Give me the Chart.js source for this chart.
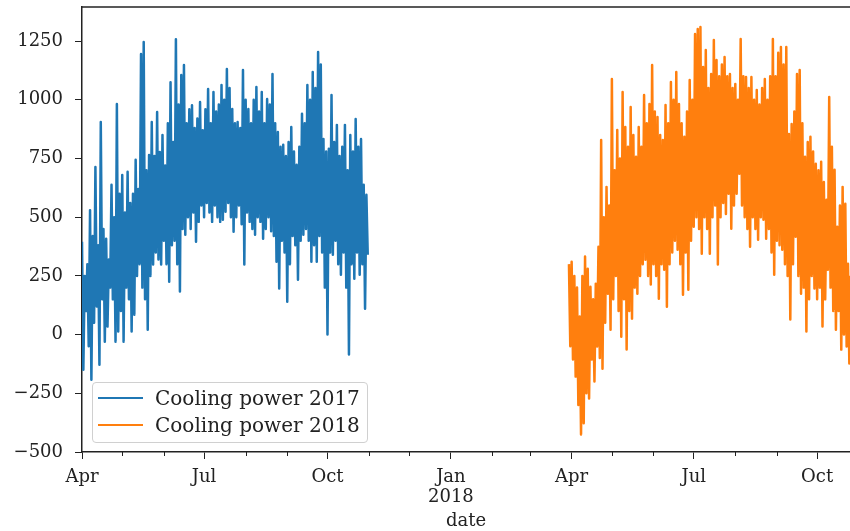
<!DOCTYPE html>
<html>
<head>
<meta charset="utf-8">
<script src="https://cdn.jsdelivr.net/npm/chart.js@4.4.1/dist/chart.umd.min.js"></script>
<style>
    html, body { margin: 0; padding: 0; background: #fff; overflow: hidden; }
    #wrap { position: relative; width: 850px; height: 531px; }
    #legend {
        position: absolute; left: 92px; top: 382px; width: 274px; height: 59px;
        border: 1px solid #d0d0d0; border-radius: 4px; background: rgba(255, 255, 255, 0.8);
        font-family: "DejaVu Serif"; font-size: 20px; color: #222;
    }
    .row { position: absolute; left: 0; height: 26px; width: 100%; }
    .row .swatch { position: absolute; left: 5px; top: 12px; width: 45px; height: 2px; }
    .row .txt { position: absolute; left: 62px; top: 0; line-height: 26px; white-space: nowrap; }
</style>
</head>
<body>
<div id="wrap">
    <canvas id="chart" width="850" height="531"></canvas>
    <div id="legend"></div>
</div>
<script>
const seriesNames = ["Cooling power 2017", "Cooling power 2018"];
const seriesColors = ["#1f77b4", "#ff7f0e"];

// x values are days counted from 2017-04-01, one high and one low every two days
const start2017 = 0;
const start2018 = 363;

const high2017 = [395, 250, 300, 530, 420, 714, 380, 905, 450, 408,
    320, 638, 500, 982, 600, 680, 520, 693, 560, 600,
    744, 620, 1195, 1246, 700, 765, 905, 760, 948, 778,
    850, 720, 900, 1075, 820, 1258, 980, 1105, 1148, 900,
    960, 977, 880, 920, 990, 870, 960, 1046, 900, 1033,
    950, 980, 1063, 1000, 1131, 1050, 961, 900, 905, 880,
    1127, 1000, 961, 900, 1000, 1054, 950, 1033, 900, 1003,
    980, 1110, 900, 863, 800, 808, 760, 820, 884, 780,
    723, 800, 940, 900, 1063, 1000, 1118, 1050, 1203, 1150,
    833, 780, 791, 1020, 820, 893, 760, 800, 893, 700,
    850, 780, 918, 800, 833, 638, 595];
const low2017 = [-150, 100, -50, -192, 50, 120, -128, 150, -30, 34,
    200, 150, -30, 13, 100, -30, 200, 150, 13, 85,
    250, 300, 200, 150, 21, 250, 298, 350, 320, 298,
    400, 300, 225, 380, 400, 300, 183, 450, 425, 500,
    450, 520, 395, 480, 550, 500, 560, 520, 480, 550,
    500, 480, 489, 523, 560, 500, 438, 500, 550, 470,
    298, 520, 480, 450, 425, 500, 480, 408, 450, 500,
    440, 420, 310, 196, 400, 350, 140, 300, 420, 380,
    234, 400, 425, 450, 400, 310, 380, 310, 420, 350,
    200, 0, 350, 340, 400, 300, 255, 350, 200, -85,
    300, 238, 350, 255, 300, 110, 340];

const high2018 = [300, 310, 250, 200, 77, 250, 332, 280, 204, 150,
    217, 374, 829, 500, 629, 550, 1088, 700, 871, 750,
    1033, 884, 800, 969, 850, 757, 884, 800, 1020, 900,
    982, 1148, 950, 927, 850, 829, 978, 900, 1076, 1000,
    1118, 982, 900, 842, 950, 1084, 1000, 1280, 1301, 1310,
    1140, 1212, 1050, 1110, 1254, 1169, 1100, 1150, 1182, 1100,
    1110, 1050, 1067, 1000, 1259, 1100, 1097, 1050, 1097, 1000,
    1042, 980, 1050, 1088, 1000, 1100, 1259, 1100, 1200, 1225,
    1150, 1225, 854, 897, 950, 1110, 1127, 900, 757, 820,
    842, 780, 727, 700, 736, 650, 574, 1012, 800, 702,
    459, 550, 629, 557, 302, 250];
const low2018 = [-50, -106, -179, -300, -425, -378, -250, -272, -106, -200,
    -51, -100, -145, 50, 174, 21, 150, 250, 100, -9,
    150, -64, 100, 68, 200, 174, 250, 300, 319, 250,
    213, 300, 250, 153, 300, 276, 119, 300, 350, 400,
    361, 300, 170, 350, 191, 400, 459, 500, 450, 344,
    500, 450, 344, 500, 550, 298, 500, 560, 514, 600,
    451, 550, 600, 685, 550, 500, 450, 374, 500, 450,
    404, 500, 489, 408, 450, 350, 255, 400, 380, 361,
    300, 250, 64, 300, 417, 250, 174, 200, 13, 150,
    250, 196, 150, 200, 34, 150, 276, 200, 100, 21,
    100, -64, 0, -51, -123, -80];

const xTickDays = [0, 91, 183, 275, 365, 456, 548];
const xTickLabels = ["Apr", "Jul", "Oct", ["Jan", "2018"], "Apr", "Jul", "Oct"];
const xMinorDays = [30, 61, 122, 153, 214, 244, 306, 334, 395, 426, 487, 518];
const yTicks = [-500, -250, 0, 250, 500, 750, 1000, 1250];

function toPoints(startDay, highs, lows) {
    let pts = [];
    highs.forEach((h, i) => {
        pts.push({ x: startDay + 2 * i, y: h });
        pts.push({ x: startDay + 2 * i + 1, y: lows[i] });
    });
    return pts;
}

// top spine and the small month ticks
const axesFrame = {
    id: "axesFrame",
    afterDraw(chart) {
        const { ctx, chartArea: a } = chart;
        const x = chart.scales.x;
        ctx.save();
        ctx.strokeStyle = "#222";
        ctx.lineWidth = 1.5;
        ctx.beginPath();
        ctx.moveTo(a.left, a.top);
        ctx.lineTo(a.right, a.top);
        ctx.stroke();
        ctx.lineWidth = 1;
        ctx.beginPath();
        xMinorDays.forEach((d) => {
            const px = Math.round(x.getPixelForValue(d)) + 0.5;
            ctx.moveTo(px, a.bottom);
            ctx.lineTo(px, a.bottom + 4);
        });
        ctx.stroke();
        ctx.restore();
    },
};

Chart.defaults.font.family = "DejaVu Serif";
Chart.defaults.color = "#222";

const datasets = [
    { label: seriesNames[0], data: toPoints(start2017, high2017, low2017) },
    { label: seriesNames[1], data: toPoints(start2018, high2018, low2018) },
].map((d, i) => ({
    ...d,
    borderColor: seriesColors[i],
    backgroundColor: seriesColors[i],
    borderWidth: 2.5,
    borderJoinStyle: "round",
    pointRadius: 0,
    tension: 0,
    fill: false,
}));

// no extra room for the end labels, so the plot keeps its own edges
function noPad(s) {
    s.paddingTop = 0;
    s.paddingBottom = 0;
    s.paddingLeft = 0;
    s.paddingRight = 0;
}

new Chart(document.getElementById("chart"), {
    type: "line",
    data: { datasets: datasets },
    options: {
        responsive: false,
        animation: false,
        events: [],
        layout: { padding: { top: 7, right: 0, bottom: 0, left: 0 } },
        plugins: { legend: { display: false }, tooltip: { enabled: false } },
        scales: {
            x: {
                type: "linear",
                min: 0,
                max: 572.5,
                afterBuildTicks: (s) => { s.ticks = xTickDays.map((v) => ({ value: v })); },
                afterFit: (s) => { s.height = 79; noPad(s); },
                grid: { drawOnChartArea: false, tickLength: 7, color: "#222", lineWidth: 1 },
                border: { display: true, color: "#222", width: 1.5 },
                ticks: {
                    autoSkip: false,
                    maxRotation: 0,
                    padding: 8,
                    font: { size: 18, lineHeight: 1.12 },
                    callback: (v) => xTickLabels[xTickDays.indexOf(v)],
                },
                title: { display: true, text: "date", font: { size: 18 }, padding: { top: 0, bottom: -1 } },
            },
            y: {
                min: -500,
                max: 1395,
                afterBuildTicks: (s) => { s.ticks = yTicks.map((v) => ({ value: v })); },
                afterFit: (s) => { s.width = 82; noPad(s); },
                grid: { drawOnChartArea: false, tickLength: 7, color: "#222", lineWidth: 1 },
                border: { display: true, color: "#222", width: 1.5 },
                ticks: {
                    padding: 12,
                    font: { size: 18 },
                    callback: (v) => (v < 0 ? "\u2212" + Math.abs(v) : String(v)),
                },
            },
        },
    },
    plugins: [axesFrame],
});

// legend box in the lower left of the plot
const legend = document.getElementById("legend");
seriesNames.forEach((name, i) => {
    const row = document.createElement("div");
    row.className = "row";
    row.style.top = (2 + i * 27) + "px";
    row.innerHTML = '<span class="swatch" style="background:' + seriesColors[i] + '"></span><span class="txt">' + name + "</span>";
    legend.appendChild(row);
});
</script>
</body>
</html>
